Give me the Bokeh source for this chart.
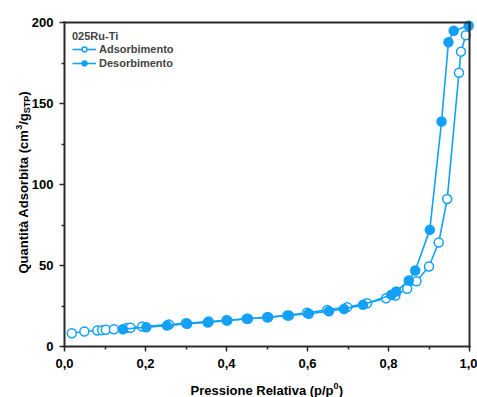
import math
from bokeh.plotting import figure
from bokeh.models import (Range1d, FixedTicker, CustomJSTickFormatter, Legend, LegendItem, Label,
                          LinearAxis)
from bokeh.embed import file_html
from bokeh.resources import INLINE

# ---- data ----
ads_p = [0.018, 0.049, 0.081, 0.093, 0.102, 0.122, 0.153, 0.163, 0.192, 0.258, 0.300, 0.356,
         0.400, 0.450, 0.500, 0.550, 0.599, 0.649, 0.698, 0.747, 0.794, 0.817, 0.846, 0.869,
         0.900, 0.924, 0.945, 0.974, 0.979, 0.991]
ads_q = [8.2, 9.3, 9.9, 10.1, 10.3, 10.7, 11.4, 11.6, 12.3, 13.6, 14.3, 15.4,
         16.2, 17.1, 18.0, 19.2, 20.8, 22.6, 24.3, 26.7, 29.8, 31.5, 35.6, 40.3,
         49.4, 64.2, 91.0, 169.0, 182.0, 192.2]
des_p = [0.998, 0.961, 0.948, 0.931, 0.902, 0.866, 0.850, 0.819, 0.807, 0.737, 0.690, 0.653,
         0.603, 0.554, 0.503, 0.453, 0.402, 0.354, 0.303, 0.253, 0.202, 0.144]
des_q = [198.0, 194.9, 187.8, 138.9, 72.0, 46.9, 40.7, 34.0, 31.9, 25.7, 23.2, 21.8,
         20.2, 19.1, 18.1, 17.1, 16.0, 14.8, 14.0, 12.9, 11.9, 10.7]
x_ticks = [0.0, 0.2, 0.4, 0.6, 0.8, 1.0]
x_minor = [0.1, 0.3, 0.5, 0.7, 0.9]
y_ticks = [0, 50, 100, 150, 200]
y_minor = [25, 75, 125, 175]
series_names = ["Adsorbimento", "Desorbimento"]
legend_title = "025Ru-Ti"

# ---- layout (pixels) ----
W, H = 477, 397
PL, PR, PT, PB = 64, 469, 22, 346      # plot box edges on the page
X0, X1, Y0, Y1 = 0.0, 1.0, 0.0, 200.0
KX = (X1 - X0) / (PR - PL)
KY = (Y1 - Y0) / (PB - PT)
FONT = "Liberation Sans"
BLUE = "#12A0F8"
AX = "#2a2a2a"

def sx(px):
    return X0 + (px - PL) * KX

def sy(py):
    return Y0 + (PB - py) * KY

p = figure(width=W, height=H, output_backend="svg", toolbar_location=None,
           x_range=Range1d(sx(0), sx(W)), y_range=Range1d(sy(H), sy(0)),
           x_axis_location=None, y_axis_location=None,
           min_border=0)
p.grid.visible = False
p.outline_line_color = None
p.background_fill_color = "white"
p.border_fill_color = "white"

def style_axis(ax):
    ax.axis_line_color = AX
    ax.axis_line_width = 2
    ax.axis_line_cap = "square"
    ax.major_tick_line_color = AX
    ax.minor_tick_line_color = AX
    ax.major_tick_line_width = 1.5
    ax.minor_tick_line_width = 1.5
    ax.major_tick_in = 0
    ax.minor_tick_in = 0
    ax.major_tick_out = 5
    ax.minor_tick_out = 3
    ax.major_label_text_font = FONT
    ax.major_label_text_font_style = "bold"
    ax.major_label_text_font_size = "13px"
    ax.major_label_text_color = "black"

xax = LinearAxis(fixed_location=Y0, bounds=(X0, X1),
                 ticker=FixedTicker(ticks=x_ticks, minor_ticks=x_minor),
                 formatter=CustomJSTickFormatter(code="return tick.toFixed(1).replace('.', ',');"),
                 major_label_standoff=7)
yax = LinearAxis(fixed_location=X0, bounds=(Y0, Y1),
                 ticker=FixedTicker(ticks=y_ticks, minor_ticks=y_minor),
                 formatter=CustomJSTickFormatter(code="return tick.toFixed(0);"),
                 major_label_standoff=6)
tax = LinearAxis(fixed_location=Y1, bounds=(X0, X1), ticker=FixedTicker(ticks=[], minor_ticks=[]))
rax = LinearAxis(fixed_location=X1, bounds=(Y0, Y1), ticker=FixedTicker(ticks=[], minor_ticks=[]))
for ax in (xax, yax, tax, rax):
    style_axis(ax)
p.add_layout(xax, "below")
p.add_layout(yax, "left")
p.add_layout(tax, "above")
p.add_layout(rax, "right")

l1 = p.line(ads_p, ads_q, line_color=BLUE, line_width=1.6)
s1 = p.scatter(ads_p, ads_q, marker="circle", size=9, line_color=BLUE, line_width=1.5, fill_color="white")
l2 = p.line(des_p, des_q, line_color=BLUE, line_width=1.6)
s2 = p.scatter(des_p, des_q, marker="circle", size=9, line_color=BLUE, line_width=1.5, fill_color=BLUE)

legend = Legend(items=[LegendItem(label=series_names[0], renderers=[l1, s1]),
                       LegendItem(label=series_names[1], renderers=[l2, s2])],
                location=(72, H - 69), title=legend_title,
                title_text_font=FONT, title_text_font_style="bold", title_text_font_size="11px",
                title_standoff=1,
                label_text_font=FONT, label_text_font_style="bold", label_text_font_size="11px",
                glyph_width=24, glyph_height=12, label_height=12, label_standoff=3, spacing=2,
                margin=0, padding=0, border_line_color=None, background_fill_alpha=0)
p.add_layout(legend)

# ---- axis titles composed of text pieces ----
def lab(xpx, ypx, text, size, angle=0.0):
    p.add_layout(Label(x=sx(xpx), y=sy(ypx), text=text, angle=angle,
                       text_font=FONT, text_font_style="bold", text_font_size=f"{size}px",
                       text_color="black", text_align="left", text_baseline="alphabetic"))

# y-axis title (reads bottom to top)
base_x = 23
y_cur = 273
parts_y = [("Quantità Adsorbita (cm", 13, 0, 143.7), ("3", 9, -5, 5.0), ("/g", 13, 0, 11.6),
           ("STP", 9, 3, 17.5), (")", 13, 0, 4.3)]
for t, s, off, w in parts_y:
    lab(base_x + off, y_cur, t, s, math.pi / 2)
    y_cur -= w

# x-axis title
base_y = 390
x_cur = 190
parts_x = [("Pressione Relativa (p/p", 13, 0, 143.0), ("0", 9, -5, 5.2), (")", 13, 0, 4.3)]
for t, s, off, w in parts_x:
    lab(x_cur, base_y + off, t, s)
    x_cur += w

open("out.html", "w").write(file_html(p, INLINE))
